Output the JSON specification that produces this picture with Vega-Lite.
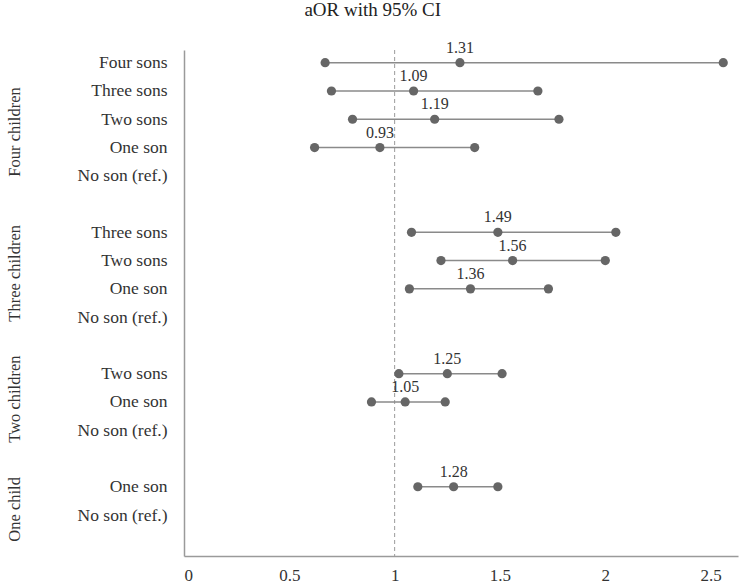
{
  "$schema": "https://vega.github.io/schema/vega-lite/v6.json",
  "autosize": {"type": "none"},
  "padding": {"left": 184, "top": 50, "right": 2, "bottom": 28},
  "width": 554,
  "height": 506,
  "background": "white",
  "title": {
    "text": "aOR with 95% CI",
    "anchor": "middle",
    "frame": "bounds",
    "font": "Liberation Serif",
    "fontSize": 19,
    "fontWeight": "normal",
    "color": "#222",
    "offset": 20
  },
  "config": {
    "view": {"stroke": null},
    "font": "Liberation Serif"
  },
  "datasets": {
    "est": [
      {"r": 0, "grp": "Four children", "cat": "Four sons", "or": 1.31, "lo": 0.67, "hi": 2.56},
      {"r": 1, "grp": "Four children", "cat": "Three sons", "or": 1.09, "lo": 0.70, "hi": 1.68},
      {"r": 2, "grp": "Four children", "cat": "Two sons", "or": 1.19, "lo": 0.80, "hi": 1.78},
      {"r": 3, "grp": "Four children", "cat": "One son", "or": 0.93, "lo": 0.62, "hi": 1.38},
      {"r": 6, "grp": "Three children", "cat": "Three sons", "or": 1.49, "lo": 1.08, "hi": 2.05},
      {"r": 7, "grp": "Three children", "cat": "Two sons", "or": 1.56, "lo": 1.22, "hi": 2.00},
      {"r": 8, "grp": "Three children", "cat": "One son", "or": 1.36, "lo": 1.07, "hi": 1.73},
      {"r": 11, "grp": "Two children", "cat": "Two sons", "or": 1.25, "lo": 1.02, "hi": 1.51},
      {"r": 12, "grp": "Two children", "cat": "One son", "or": 1.05, "lo": 0.89, "hi": 1.24},
      {"r": 15, "grp": "One child", "cat": "One son", "or": 1.28, "lo": 1.11, "hi": 1.49}
    ],
    "groups": [
      {"grp": "Four children", "pos": 2.45},
      {"grp": "Three children", "pos": 7.45},
      {"grp": "Two children", "pos": 11.9},
      {"grp": "One child", "pos": 15.8}
    ]
  },
  "encoding": {
    "y": {
      "field": "r",
      "type": "quantitative",
      "scale": {"domain": [-0.45, 17.45], "reverse": true, "nice": false, "zero": false},
      "axis": {
        "title": null,
        "grid": false,
        "ticks": false,
        "domainColor": "#9a9a9a",
        "domainWidth": 1.5,
        "values": [0, 1, 2, 3, 4, 6, 7, 8, 9, 11, 12, 13, 15, 16],
        "labelExpr": "['Four sons','Three sons','Two sons','One son','No son (ref.)','','Three sons','Two sons','One son','No son (ref.)','','Two sons','One son','No son (ref.)','','One son','No son (ref.)'][datum.value]",
        "labelFont": "Liberation Serif",
        "labelFontSize": 17.5,
        "labelColor": "#333",
        "labelPadding": 17
      }
    }
  },
  "layer": [
    {
      "data": {"values": [{}]},
      "mark": {"type": "rule", "color": "#9a9a9a", "strokeDash": [4, 3], "strokeWidth": 1},
      "encoding": {"x": {"datum": 1, "type": "quantitative"}, "y": null}
    },
    {
      "data": {"name": "est"},
      "mark": {"type": "rule", "color": "#8a8a8a", "strokeWidth": 1.5},
      "encoding": {
        "x": {
          "field": "lo",
          "type": "quantitative",
          "scale": {"domain": [0, 2.63], "nice": false, "zero": false},
          "axis": {
            "title": null,
            "grid": false,
            "ticks": false,
            "values": [0, 0.5, 1, 1.5, 2, 2.5],
            "format": "~g",
            "domainColor": "#9a9a9a",
            "domainWidth": 1.5,
            "labelFont": "Liberation Serif",
            "labelFontSize": 17,
            "labelColor": "#333",
            "labelPadding": 11
          }
        },
        "x2": {"field": "hi"}
      }
    },
    {
      "data": {"name": "est"},
      "transform": [{"fold": ["lo", "or", "hi"], "as": ["kind", "v"]}],
      "mark": {"type": "point", "shape": "circle", "filled": true, "color": "#666", "opacity": 1, "size": 85},
      "encoding": {"x": {"field": "v", "type": "quantitative"}}
    },
    {
      "data": {"name": "est"},
      "mark": {"type": "text", "dy": -15, "font": "Liberation Serif", "fontSize": 16, "color": "#333"},
      "encoding": {
        "x": {"field": "or", "type": "quantitative"},
        "text": {"field": "or", "type": "quantitative", "format": ".2f"}
      }
    },
    {
      "data": {"name": "groups"},
      "mark": {"type": "text", "angle": 270, "align": "center", "baseline": "middle", "font": "Liberation Serif", "fontSize": 16.5, "color": "#333"},
      "encoding": {
        "x": {"datum": -0.8, "type": "quantitative"},
        "y": {"field": "pos", "type": "quantitative"},
        "text": {"field": "grp"}
      }
    }
  ]
}
